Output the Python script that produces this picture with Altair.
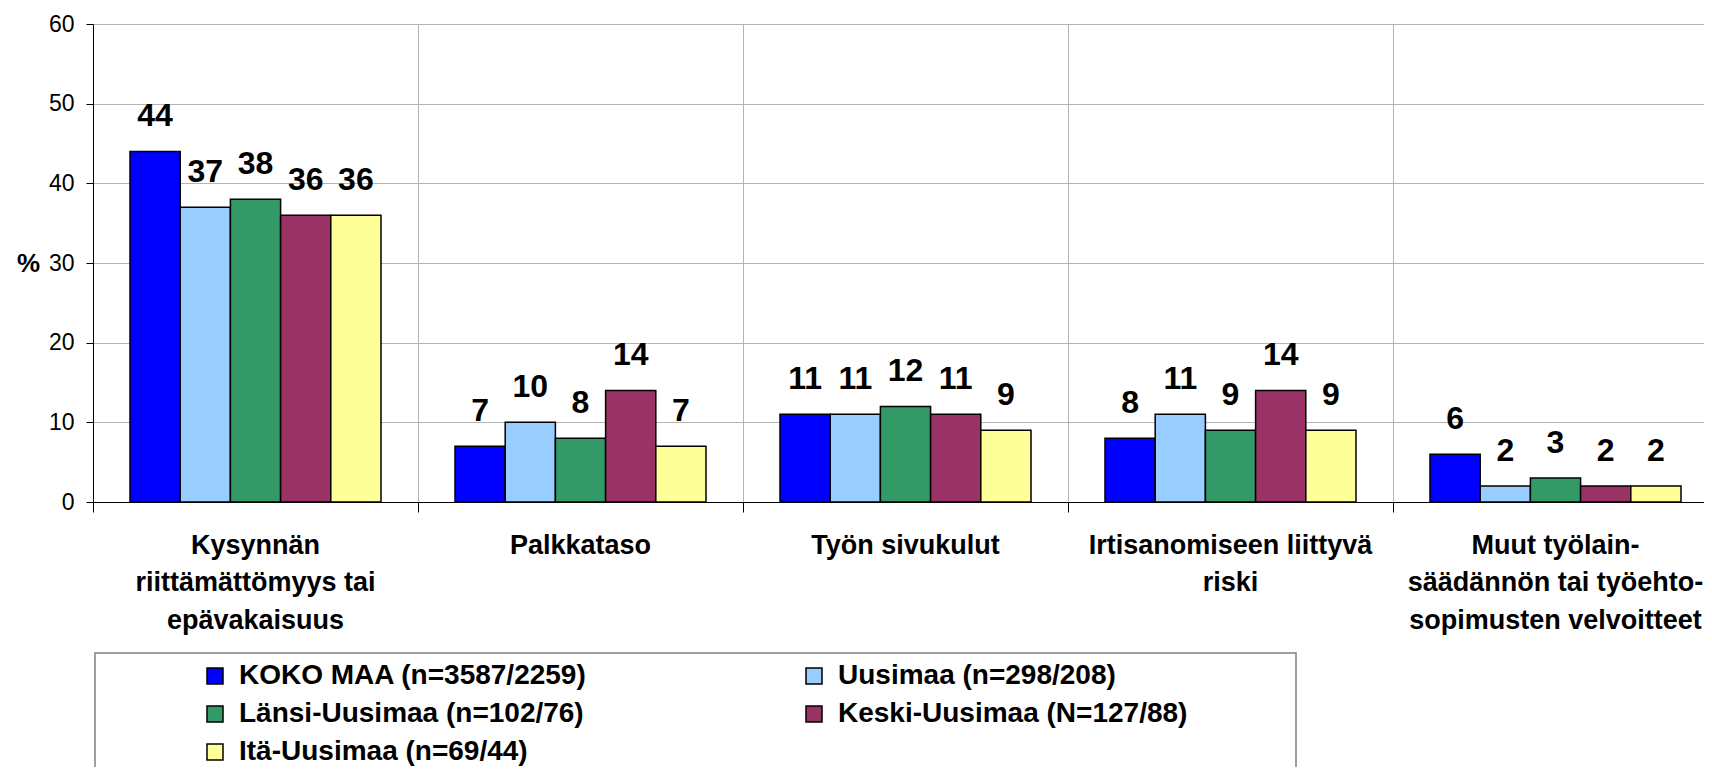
import altair as alt
import pandas as pd

categories = [
    "Kysynnän|riittämättömyys tai|epävakaisuus",
    "Palkkataso",
    "Työn sivukulut",
    "Irtisanomiseen liittyvä|riski",
    "Muut työlain-|säädännön tai työehto-|sopimusten velvoitteet",
]
series = [
    "KOKO MAA (n=3587/2259)",
    "Uusimaa (n=298/208)",
    "Länsi-Uusimaa (n=102/76)",
    "Keski-Uusimaa (N=127/88)",
    "Itä-Uusimaa (n=69/44)",
]
koko_maa = [44, 7, 11, 8, 6]
uusimaa = [37, 10, 11, 11, 2]
lansi_uusimaa = [38, 8, 12, 9, 3]
keski_uusimaa = [36, 14, 11, 14, 2]
ita_uusimaa = [36, 7, 9, 9, 2]
y_ticks = [0, 10, 20, 30, 40, 50, 60]
colors = ["#0000FF", "#99CCFF", "#339966", "#993366", "#FFFF99"]

rows = []
for s, vals in zip(series, [koko_maa, uusimaa, lansi_uusimaa, keski_uusimaa, ita_uusimaa]):
    for c, v in zip(categories, vals):
        rows.append({"kategoria": c, "alue": s, "arvo": v})
df = pd.DataFrame(rows)

# legend is filled column by column: reorder so it reads row by row
legend_order = [0, 2, 4, 1, 3]
legend_domain = [series[i] for i in legend_order]
legend_colors = [colors[i] for i in legend_order]

FONT = "Liberation Sans, Arial, sans-serif"
GRID = "#b4b4b4"

base = alt.Chart(df).encode(
    x=alt.X(
        "kategoria:N",
        sort=categories,
        title=None,
        scale=alt.Scale(range=[0, 1625], paddingInner=0, paddingOuter=0),
        axis=alt.Axis(
            bandPosition=0,
            grid=True,
            gridColor=GRID,
            gridWidth=1,
            domainColor="black",
            domainWidth=1,
            tickColor="black",
            tickSize=10,
            labelFont=FONT,
            labelFontSize=27,
            labelFontWeight="bold",
            labelColor="black",
            labelLineHeight=37.5,
            labelBaseline="alphabetic",
            labelPadding=41,
            labelAngle=0,
            labelLimit=600,
            labelOverlap=False,
            labelExpr="split(datum.label, '|')",
        ),
    ),
    xOffset=alt.XOffset(
        "alue:N", sort=series, scale=alt.Scale(paddingInner=0, paddingOuter=0.737)
    ),
    y=alt.Y(
        "arvo:Q",
        scale=alt.Scale(domain=[0, 60], nice=False),
        axis=alt.Axis(
            values=y_ticks,
            grid=True,
            gridColor=GRID,
            gridWidth=1,
            domainColor="black",
            tickColor="black",
            tickSize=7,
            labelFont=FONT,
            labelFontSize=23,
            labelColor="black",
            labelPadding=12,
            title="%",
            titleAngle=0,
            titleFont=FONT,
            titleFontSize=26,
            titleFontWeight="bold",
            titleColor="black",
            titleX=-65,
            titleY=239,
            titleAlign="center",
            titleBaseline="middle",
        ),
    ),
)

bars = base.mark_bar(stroke="black", strokeWidth=1.5).encode(
    color=alt.Color(
        "alue:N",
        scale=alt.Scale(domain=legend_domain, range=legend_colors),
        legend=alt.Legend(
            title=None,
            orient="none",
            legendX=108,
            legendY=638,
            columns=2,
            columnPadding=213,
            rowPadding=10,
            symbolType="square",
            symbolSize=256,
            symbolStrokeColor="black",
            symbolStrokeWidth=1.5,
            symbolOpacity=1,
            labelFont=FONT,
            labelFontSize=28,
            labelFontWeight="bold",
            labelColor="black",
            labelOffset=10,
            labelLimit=600,
            padding=0,
        ),
    )
)

labels = base.mark_text(
    font=FONT, fontSize=32, fontWeight="bold", baseline="alphabetic", dy=-25, color="black"
).encode(text="arvo:Q")

box = alt.Chart(pd.DataFrame({"k": [0]})).mark_rect(
    fillOpacity=0, stroke="#808080", strokeWidth=1.5
).encode(
    x=alt.value(2), x2=alt.value(1203), y=alt.value(629), y2=alt.value(760)
)

chart = alt.layer(bars, labels, box).properties(
    width=1611,
    height=478,
    autosize=alt.AutoSizeParams(type="none"),
    padding={"left": 85, "top": 16, "right": 0, "bottom": 265},
).configure_view(strokeWidth=0)

chart.save("out.html", embed_options={"renderer": "svg", "actions": False})
